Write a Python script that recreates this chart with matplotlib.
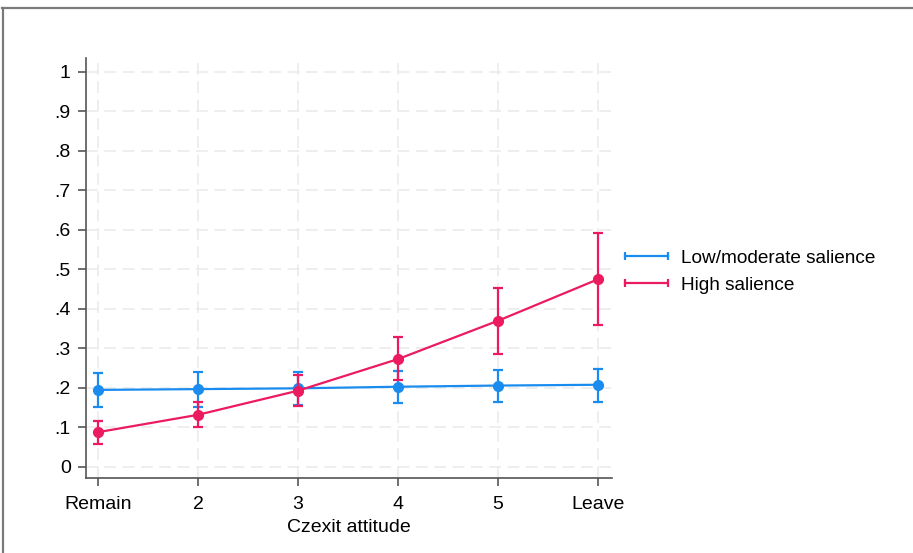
import numpy as np
import matplotlib.pyplot as plt
from matplotlib.lines import Line2D

plt.rcParams['font.family'] = ['Liberation Sans', 'DejaVu Sans']

# Data
x = np.array([1, 2, 3, 4, 5, 6])
x_labels = ['Remain', '2', '3', '4', '5', 'Leave']

low_est = np.array([0.195, 0.197, 0.199, 0.203, 0.206, 0.208])
low_lo = np.array([0.152, 0.152, 0.157, 0.163, 0.164, 0.165])
low_hi = np.array([0.238, 0.240, 0.240, 0.244, 0.245, 0.248])

high_est = np.array([0.088, 0.132, 0.193, 0.273, 0.370, 0.475])
high_lo = np.array([0.058, 0.100, 0.154, 0.219, 0.285, 0.360])
high_hi = np.array([0.117, 0.164, 0.232, 0.330, 0.454, 0.592])

blue = '#1a8cf0'
red = '#ec1a5e'

fig = plt.figure(figsize=(9.13, 5.53), dpi=100)
ax = fig.add_axes([0.0942, 0.1356, 0.5761, 0.7595])

ax.errorbar(x, low_est, yerr=[low_est - low_lo, low_hi - low_est], color=blue,
            lw=1.6, marker='o', ms=7, elinewidth=1.6, capsize=3.5, capthick=1.6, zorder=3)
ax.errorbar(x, high_est, yerr=[high_est - high_lo, high_hi - high_est], color=red,
            lw=1.6, marker='o', ms=7, elinewidth=1.6, capsize=3.5, capthick=1.6, zorder=4)

ax.set_xlim(0.88, 6.14)
ax.set_ylim(-0.028, 1.035)
ax.set_xticks(x)
ax.set_xticklabels(x_labels)
yt = np.round(np.arange(0, 1.01, 0.1), 1)
ax.set_yticks(yt)
ax.set_yticklabels(['0'] + ['.%d' % int(round(v * 10)) for v in yt[1:-1]] + ['1'])
ax.tick_params(axis='both', labelsize=14, length=6, width=1.2, color='#555555', pad=5)
ax.tick_params(axis='x', pad=7)
ax.grid(True, color='#ebebeb', ls=(0, (7, 4)), lw=1.2)
ax.set_axisbelow(True)
for s in ['top', 'right']:
    ax.spines[s].set_visible(False)
for s in ['left', 'bottom']:
    ax.spines[s].set_color('#555555')
    ax.spines[s].set_linewidth(1.2)
ax.set_xlabel('Czexit attitude', fontsize=14, labelpad=4)

handles = [Line2D([], [], color=blue, lw=1.6, marker='|', ms=6, mew=1.6),
           Line2D([], [], color=red, lw=1.6, marker='|', ms=6, mew=1.6)]
fig.legend(handles, ['Low/moderate salience', 'High salience'], loc='center left',
           bbox_to_anchor=(0.678, 0.509), frameon=False, fontsize=13.7, numpoints=2,
           handlelength=2.9, handletextpad=0.35, labelspacing=0.5,
           borderpad=0, borderaxespad=0)

# outer frame (top and left edges)
fig.add_artist(Line2D([0.002, 0.999], [0.985, 0.985], color='#7a7a7a', lw=1.6,
                      transform=fig.transFigure))
fig.add_artist(Line2D([0.003, 0.003], [0.0, 0.985], color='#7a7a7a', lw=1.6,
                      transform=fig.transFigure))

fig.savefig('out.png', dpi=100)
